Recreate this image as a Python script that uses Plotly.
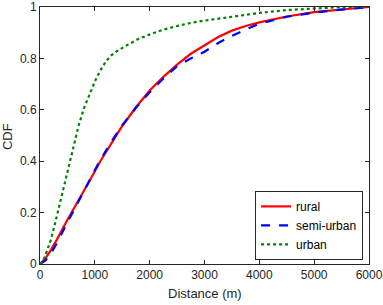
import plotly.graph_objects as go

rural_x = [0, 100, 200, 300, 500, 700, 900, 1100, 1300, 1500, 1750, 2000, 2250, 2500, 2750, 3000, 3250, 3500, 3750, 4000, 4500, 5000, 5500, 6000]
rural_y = [0, 0.022, 0.055, 0.092, 0.172, 0.245, 0.322, 0.4, 0.47, 0.537, 0.61, 0.675, 0.728, 0.776, 0.818, 0.852, 0.883, 0.908, 0.926, 0.94, 0.963, 0.98, 0.99, 1.0]

semi_x = [0, 100, 200, 300, 500, 700, 900, 1100, 1300, 1500, 1750, 2000, 2250, 2500, 2750, 3000, 3250, 3500, 3750, 4000, 4500, 5000, 5500, 6000]
semi_y = [0, 0.014, 0.042, 0.078, 0.162, 0.245, 0.325, 0.405, 0.475, 0.54, 0.608, 0.668, 0.722, 0.77, 0.8, 0.826, 0.86, 0.888, 0.912, 0.935, 0.962, 0.978, 0.99, 1.0]

urban_x = [0, 50, 100, 200, 300, 400, 500, 600, 700, 800, 900, 1000, 1100, 1200, 1300, 1400, 1600, 1800, 2000, 2250, 2500, 2750, 3000, 3500, 4000, 4500, 5000, 5500, 6000]
urban_y = [0, 0.01, 0.035, 0.095, 0.18, 0.27, 0.36, 0.45, 0.535, 0.605, 0.66, 0.71, 0.753, 0.788, 0.812, 0.828, 0.853, 0.876, 0.893, 0.912, 0.926, 0.938, 0.947, 0.962, 0.977, 0.988, 0.995, 1.0, 1.0]

x_ticks = [0, 1000, 2000, 3000, 4000, 5000, 6000]
y_ticks = [0, 0.2, 0.4, 0.6, 0.8, 1]
y_labels = ["0", "0.2", "0.4", "0.6", "0.8", "1"]

fig = go.Figure()
fig.add_trace(go.Scatter(x=rural_x, y=rural_y, name="rural", mode="lines",
                         line=dict(color="#ff0000", width=2.2)))
fig.add_trace(go.Scatter(x=semi_x, y=semi_y, name="semi-urban", mode="lines",
                         line=dict(color="#0000ff", width=2.2, dash="dash")))
fig.add_trace(go.Scatter(x=urban_x, y=urban_y, name="urban", mode="lines",
                         line=dict(color="#008000", width=2.2, dash="dot")))

axis_common = dict(showline=True, linecolor="#262626", linewidth=1, mirror="ticks",
                   ticks="inside", ticklen=4, tickcolor="#262626", showgrid=False,
                   zeroline=False, automargin=False,
                   tickfont=dict(family="Liberation Sans, Arial", size=12, color="#262626"))

fig.update_layout(
    width=383, height=305,
    margin=dict(l=40, r=14, t=7, b=41, autoexpand=False),
    paper_bgcolor="white", plot_bgcolor="white",
    font=dict(family="Liberation Sans, Arial", size=12, color="#262626"),
    xaxis=dict(range=[0, 6000], tickvals=x_ticks, **axis_common),
    yaxis=dict(range=[0, 1], tickvals=y_ticks, ticktext=y_labels, **axis_common),
    legend=dict(x=0.982, y=0.016, xanchor="right", yanchor="bottom",
                bordercolor="#262626", borderwidth=1, bgcolor="white",
                font=dict(size=12, color="#000000"), tracegroupgap=0, itemwidth=30),
    showlegend=True,
    annotations=[
        dict(text="Distance (m)", xref="paper", yref="paper", x=0.5, y=-0.1167,
             xanchor="center", yanchor="middle", showarrow=False,
             font=dict(size=13, color="#262626")),
        dict(text="CDF", xref="paper", yref="paper", x=-0.1003, y=0.494,
             xanchor="center", yanchor="middle", showarrow=False, textangle=-90,
             font=dict(size=13, color="#262626")),
    ],
)

fig.write_html("out.html", config={"displayModeBar": False},
               post_script="document.body.style.margin='0';document.body.style.overflow='hidden';")
